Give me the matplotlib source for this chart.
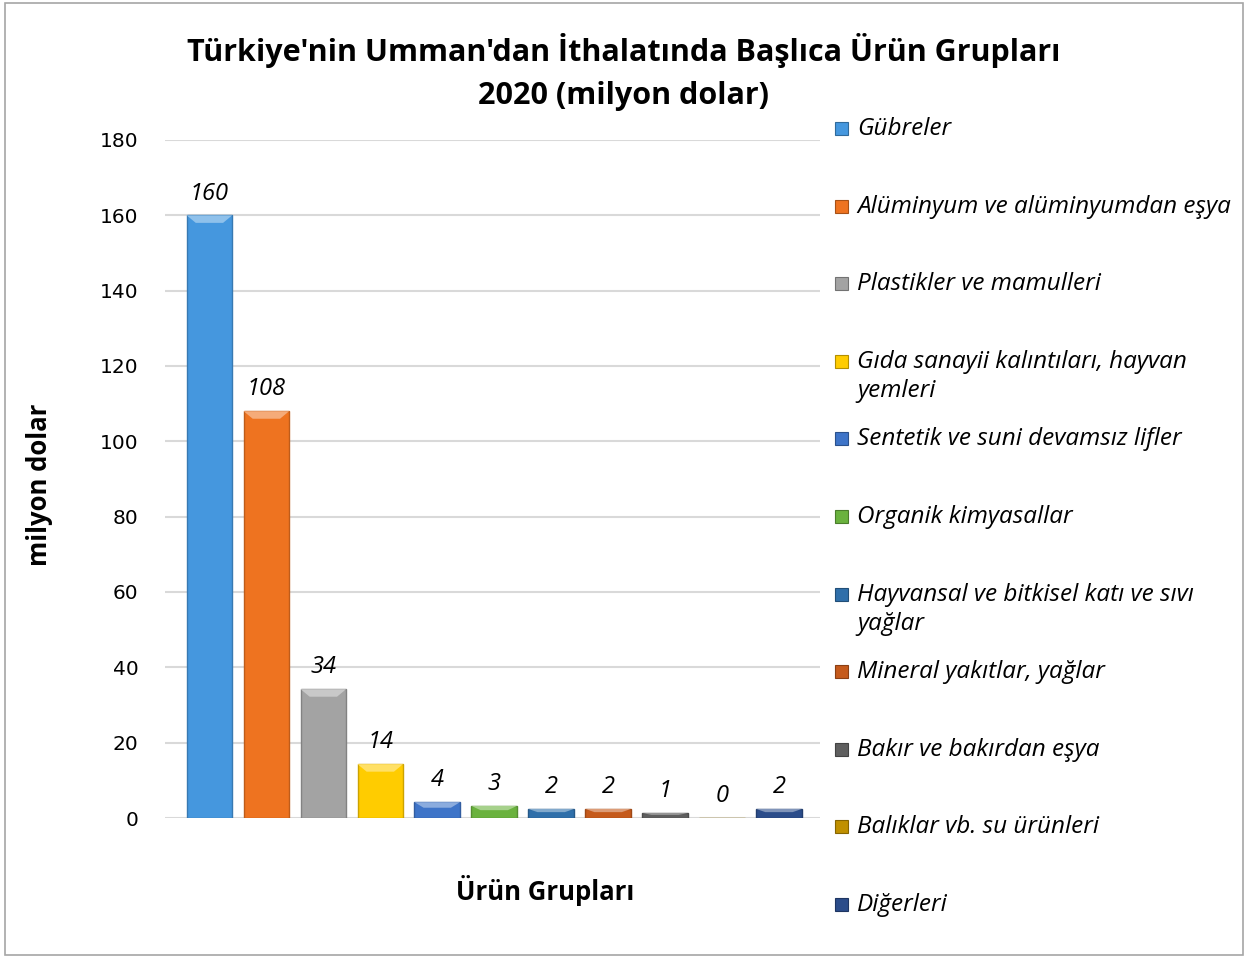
import matplotlib.pyplot as plt
import matplotlib.patches as mpatches
import matplotlib.colors as mcolors
import numpy as np

categories = [
    "Gübreler",
    "Alüminyum ve alüminyumdan eşya",
    "Plastikler ve mamulleri",
    "Gıda sanayii kalıntıları, hayvan\nyemleri",
    "Sentetik ve suni devamsız lifler",
    "Organik kimyasallar",
    "Hayvansal ve bitkisel katı ve sıvı\nyağlar",
    "Mineral yakıtlar, yağlar",
    "Bakır ve bakırdan eşya",
    "Balıklar vb. su ürünleri",
    "Diğerleri",
]
values = [160, 108, 34, 14, 4, 3, 2, 2, 1, 0, 2]
bar_heights = [160, 108, 34.2, 14.3, 4.2, 3.2, 2.4, 2.4, 1.3, 0, 2.4]
colors = ["#4597DE", "#EE7320", "#A3A3A3", "#FFCC00", "#3E74C8", "#6AB23E",
          "#2F6FAA", "#C55A1C", "#5F5F5F", "#C09000", "#2B4C8A"]
yticks = [0, 20, 40, 60, 80, 100, 120, 140, 160, 180]


def shade(c, f):
    return tuple(np.array(mcolors.to_rgb(c)) * f)


def tint(c, f):
    return tuple(1 - (1 - np.array(mcolors.to_rgb(c))) * f)


W, H = 1248, 960
fig = plt.figure(figsize=(W / 100, H / 100), dpi=100)
ax = fig.add_axes([165 / W, 1 - 818 / H, (820 - 165) / W, (818 - 140) / H])

x = np.arange(len(values))
bars = ax.bar(x, bar_heights, width=0.8, color=colors, zorder=3,
              edgecolor=[shade(c, 0.8) for c in colors], linewidth=1)

# light bevel on top of each bar
for b, c in zip(bars, colors):
    h = b.get_height()
    if h <= 0:
        continue
    x0, w = b.get_x(), b.get_width()
    bev = min(2.0, h * 0.35)
    ax.add_patch(mpatches.Polygon(
        [[x0, h], [x0 + w, h], [x0 + w * 0.8, h - bev], [x0 + w * 0.2, h - bev]],
        closed=True, facecolor=tint(c, 0.6), edgecolor="none", zorder=4))

for xi, v, h in zip(x, values, bar_heights):
    ax.annotate(str(v), (xi, h), xytext=(0, 7), textcoords="offset points",
                ha="center", va="bottom", fontsize=17, style="italic",
                family="Open Sans")

ax.set_ylim(0, 180)
ax.set_xlim(-0.78, 10.72)
ax.set_yticks(yticks)
ax.set_yticklabels([str(t) for t in yticks], fontsize=14.5, family="DejaVu Sans")
ax.tick_params(axis="y", length=0, pad=19)
ax.set_xticks([])
ax.grid(axis="y", color="#d9d9d9", linewidth=1.5, zorder=0)
for s in ax.spines.values():
    s.set_visible(False)

fig.text(40 / W, 1 - 485 / H, "milyon dolar", rotation=90, ha="center", va="center",
         fontsize=18.5, fontweight="bold", family="Open Sans")
fig.text(545 / W, 1 - 890 / H, "Ürün Grupları", ha="center", va="center",
         fontsize=18.5, fontweight="bold", family="Open Sans")
fig.text(624 / W, 1 - 72 / H, "Türkiye'nin Umman'dan İthalatında Başlıca Ürün Grupları\n2020 (milyon dolar)",
         ha="center", va="center", fontsize=22, fontweight="bold", family="Open Sans",
         linespacing=1.55)

# legend on the right
for i, (cat, c) in enumerate(zip(categories, colors)):
    yc = 129 + i * 77.6
    fig.patches.append(mpatches.Rectangle((835 / W, 1 - (yc + 6) / H), 13 / W, 13 / H,
                                          transform=fig.transFigure, facecolor=c,
                                          edgecolor=shade(c, 0.7), linewidth=0.8))
    fig.text(857 / W, 1 - (yc - 12) / H, cat, ha="left", va="top", fontsize=17.5,
             style="italic", family="Open Sans", linespacing=1.3)

fig.patches.append(mpatches.Rectangle((5 / W, 5 / H), (W - 10) / W, (H - 8) / H,
                                      transform=fig.transFigure, fill=False,
                                      edgecolor="#a6a6a6", linewidth=1.2))

fig.savefig("out.png", dpi=100)
